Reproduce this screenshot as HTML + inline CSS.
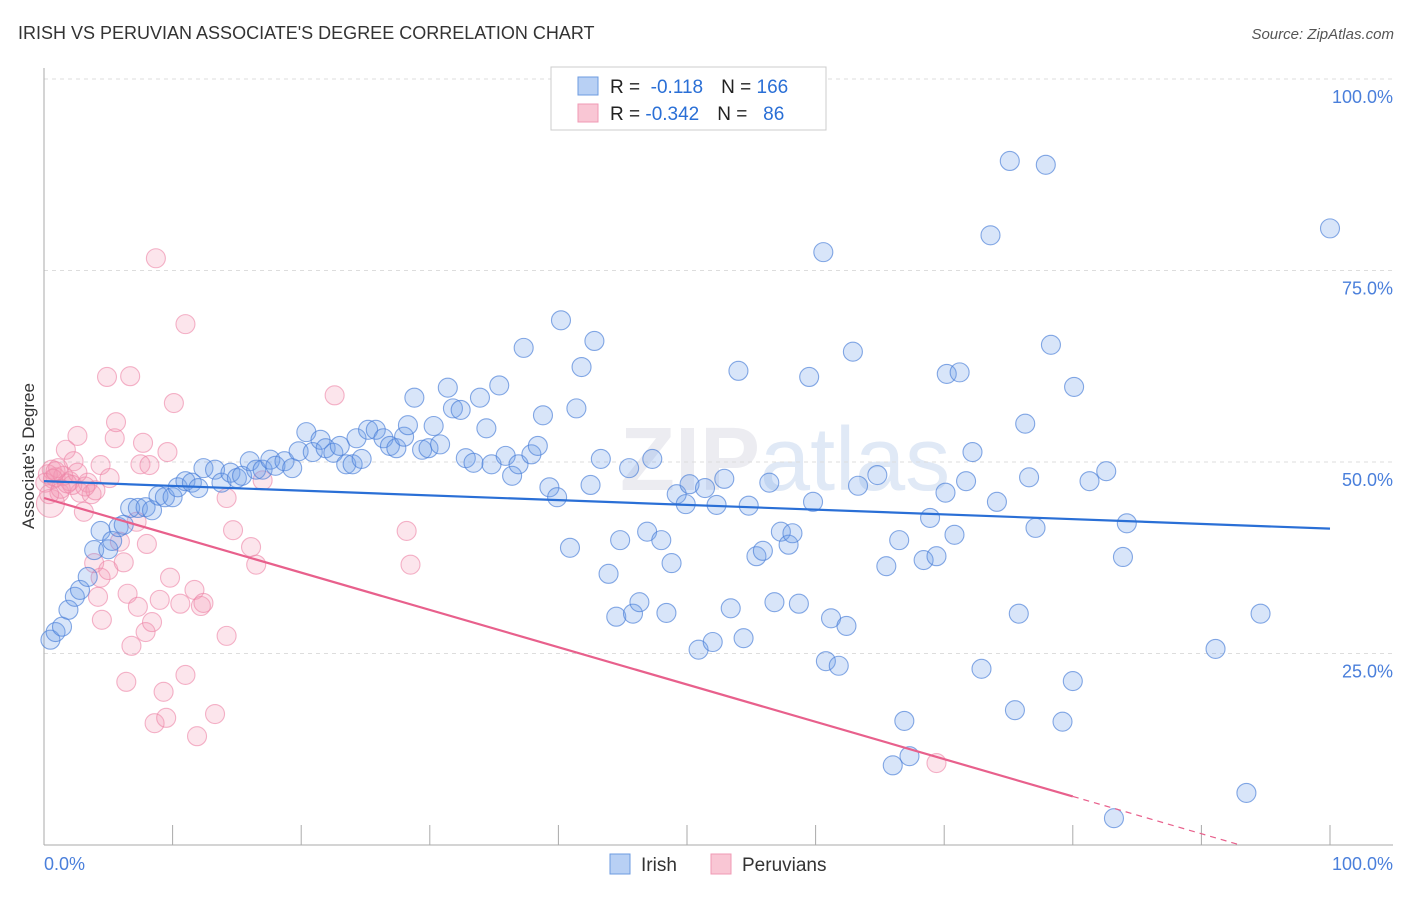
<!DOCTYPE html>
<html><head><meta charset="utf-8"><style>
body{margin:0;background:#fff;font-family:"Liberation Sans",sans-serif}
svg text{font-family:"Liberation Sans",sans-serif}
</style></head><body>
<svg id="chart" width="1406" height="892" xmlns="http://www.w3.org/2000/svg">
<text x="18" y="39" font-size="18" fill="#333">IRISH VS PERUVIAN ASSOCIATE'S DEGREE CORRELATION CHART</text>
<text x="1394" y="39" font-size="15" fill="#555" font-style="italic" text-anchor="end">Source: ZipAtlas.com</text>
<text x="34" y="456" font-size="17" fill="#333" text-anchor="middle" transform="rotate(-90 34 456)">Associate's Degree</text>
<text x="620" y="490" font-size="90" fill="#ececf1" font-family="Liberation Serif" font-weight="bold">ZIP<tspan font-family="Liberation Sans" font-weight="normal" fill="#e0e9f6">atlas</tspan></text>
<g id="grid"></g><g id="pts"></g><g id="lines"></g>
<g>
<rect x="551" y="67" width="275" height="63" fill="#fff" stroke="#ccc"/>
<rect x="578" y="77" width="20" height="18" fill="#b8d0f4" stroke="#6d9be0"/>
<rect x="578" y="104" width="20" height="18" fill="#f9c6d4" stroke="#f09ab4"/>
<text x="610" y="93" font-size="19" fill="#222">R = <tspan fill="#2a6fd6">&#160;-0.118</tspan><tspan dx="18">N = </tspan><tspan fill="#2a6fd6">166</tspan></text>
<text x="610" y="120" font-size="19" fill="#222">R = <tspan fill="#2a6fd6">-0.342</tspan><tspan dx="18">N = </tspan><tspan fill="#2a6fd6">&#160;&#160;86</tspan></text>
</g>
<g>
<rect x="610" y="854" width="20" height="20" fill="#b8d0f4" stroke="#6d9be0"/>
<text x="641" y="871" font-size="19" fill="#333">Irish</text>
<rect x="711" y="854" width="20" height="20" fill="#f9c6d4" stroke="#f09ab4"/>
<text x="742" y="871" font-size="19" fill="#333">Peruvians</text>
</g>
<text x="44" y="870" font-size="18" fill="#4a7fdb">0.0%</text>
<text x="1393" y="870" font-size="18" fill="#4a7fdb" text-anchor="end">100.0%</text>
</svg>
<script>
const yTicks=[100,75,50,25];
const yTickLabels=["100.0%","75.0%","50.0%","25.0%"];
const xTicks=[0,10,20,30,40,50,60,70,80,90,100];
const irishX=[0.5,0.9,1.4,1.9,2.4,2.8,3.4,3.9,5,4.4,5.3,5.8,6.2,6.7,7.3,7.9,8.4,8.9,9.4,10,10.4,11,11.5,12,12.4,13.3,13.8,14.5,15,15.4,16,16.5,17,17.6,18,18.7,19.3,19.8,20.4,20.9,21.5,21.9,22.5,23,23.5,24,24.3,24.7,25.2,25.8,26.4,26.9,27.4,28,28.3,28.8,29.4,29.9,30.3,30.8,31.4,31.8,32.4,32.8,33.4,33.9,34.4,34.8,35.4,35.9,36.4,36.9,37.3,37.9,38.4,38.8,39.3,39.9,40.2,40.9,41.4,41.8,42.5,42.8,43.3,43.9,44.5,44.8,45.5,45.8,46.3,46.9,47.3,48,48.4,48.8,49.2,49.9,50.2,50.9,51.4,52,52.3,52.9,53.4,54,54.4,54.8,55.4,55.9,56.4,56.8,57.3,57.9,58.2,58.7,59.5,59.8,60.6,60.8,61.2,61.8,62.4,62.9,63.3,64.8,65.5,66,66.5,66.9,67.3,68.4,68.9,69.4,70.1,70.2,70.8,71.2,71.7,72.2,72.9,73.6,74.1,75.1,75.5,75.8,76.3,76.6,77.1,77.9,78.3,79.2,80,80.1,81.3,82.6,83.2,83.9,84.2,91.1,93.5,94.6,100];
const irishY=[26.8,27.8,28.5,30.7,32.4,33.3,35,38.5,38.6,41,39.7,41.5,41.8,44,44,44.1,43.7,45.6,45.4,45.4,46.7,47.5,47.3,46.6,49.2,49,47.3,48.6,47.9,48.2,50.1,49,49,50.3,49.5,50.1,49.2,51.4,53.9,51.3,52.9,51.8,51.2,52.1,49.7,49.7,53.1,50.4,54.2,54.2,53.1,52.1,51.8,53.3,54.8,58.4,51.6,51.8,54.7,52.3,59.7,57,56.8,50.5,49.9,58.4,54.4,49.7,60,50.8,48.2,49.7,64.9,51,52.1,56.1,46.7,45.4,68.5,38.8,57,62.4,47,65.8,50.4,35.4,29.8,39.8,49.2,30.2,31.7,40.9,50.4,39.8,30.3,36.8,45.8,44.5,47.1,25.5,46.6,26.5,44.4,47.8,30.9,61.9,27,44.3,37.7,38.4,47.3,31.7,40.9,39.2,40.7,31.5,61.1,44.8,77.4,24,29.6,23.4,28.6,64.4,46.9,48.3,36.4,10.4,39.8,16.2,11.6,37.2,42.7,37.7,46,61.5,40.5,61.7,47.5,51.3,23,79.6,44.8,89.3,17.6,30.2,55,48,41.4,88.8,65.3,16.1,21.4,59.8,47.5,48.8,3.5,37.6,42,25.6,6.8,30.2,80.5];
const peruX=[0.5,0.6,0.9,1.2,1.7,2,2.3,2.6,2.8,3.1,3.4,3.7,3.9,4,4.2,4.4,4.4,4.5,4.9,5,5.1,5.5,5.6,5.9,6.2,6.4,6.5,6.7,6.8,7.2,7.3,7.5,7.7,7.9,8,8.2,8.4,8.6,8.7,9,9.3,9.5,9.6,9.8,10.1,10.6,11,11,11.7,11.9,12.2,12.4,13.3,14.2,14.2,14.7,16.1,16.5,17,22.6,28.2,28.5,69.4,0.1,0.3,1.5,1.1,2.2,0.7,1.3,2.6,3.2,0.4,1.8,0.9];
const peruY=[44.6,49,48,46,51.6,47.5,50.1,53.4,46,43.5,47.3,45.8,36.8,46.3,32.4,49.6,34.9,29.4,61.1,35.9,47.9,53.1,55.2,39.6,36.9,21.3,32.8,61.2,26,42.2,31.1,49.7,52.5,27.8,39.3,49.6,29.1,15.9,76.6,32,20,16.6,51.3,34.9,57.7,31.5,22.2,68,33.3,14.2,31.2,31.6,17.1,45.3,27.3,41.1,38.9,36.6,47.6,58.7,41,36.6,10.7,47.3,48.4,48.2,49.2,47,47.8,46.5,48.6,46.8,45.8,47.2,48.8];
const irishTrend=[47.5,41.3];
const peruTrend=[45.3,-3.4];
const peruSolidEnd=80;

const NS="http://www.w3.org/2000/svg";
const X0=44,X1=1330,Y0=845,Y100=79;
const sx=v=>X0+(X1-X0)*v/100, sy=v=>Y0-(Y0-Y100)*v/100;
function mk(tag,attrs,parent){const e=document.createElementNS(NS,tag);for(const k in attrs)e.setAttribute(k,attrs[k]);parent.appendChild(e);return e;}
const grid=document.getElementById('grid');
yTicks.forEach((t,i)=>{
 const l=mk('line',{x1:X0,x2:1393,y1:sy(t),y2:sy(t),stroke:'#ddd','stroke-dasharray':'4,4'},grid);
 
 
 const tx=mk('text',{x:1393,y:sy(t)+24,'font-size':18,fill:'#4a7fdb','text-anchor':'end'},grid);
 tx.textContent=yTickLabels[i];
 
 
});
const ax=mk('line',{x1:X0,x2:X0,y1:68,y2:Y0,stroke:'#aaa'},grid);


const bx=mk('line',{x1:X0,x2:1393,y1:Y0,y2:Y0,stroke:'#aaa'},grid);


xTicks.forEach(t=>{
 const tk=mk('line',{x1:sx(t),x2:sx(t),y1:Y0-20,y2:Y0,stroke:'#aaa'},grid);
 
 
});
const pts=document.getElementById('pts');
peruX.forEach((x,i)=>{
 const c=mk('circle',{cx:sx(x),cy:sy(peruY[i]),r:i===0?14:9.5,fill:'rgba(244,150,180,0.25)',stroke:'rgba(236,130,165,0.6)','stroke-width':1.1},pts);
 
 
});
irishX.forEach((x,i)=>{
 const c=mk('circle',{cx:sx(x),cy:sy(irishY[i]),r:9.5,fill:'rgba(110,160,232,0.27)',stroke:'rgba(70,125,215,0.65)','stroke-width':1.1},pts);
 
 
});
const lines=document.getElementById('lines');
const il=mk('line',{x1:sx(0),y1:sy(irishTrend[0]),x2:sx(100),y2:sy(irishTrend[1]),stroke:'#2a6fd6','stroke-width':2.2},lines);


const pAt=x=>peruTrend[0]+(peruTrend[1]-peruTrend[0])*x/100;
const pl=mk('line',{x1:sx(0),y1:sy(pAt(0)),x2:sx(peruSolidEnd),y2:sy(pAt(peruSolidEnd)),stroke:'#e8608c','stroke-width':2.2},lines);


const xEnd=Math.min(100,-peruTrend[0]*100/(peruTrend[1]-peruTrend[0]));
const pd=mk('line',{x1:sx(peruSolidEnd),y1:sy(pAt(peruSolidEnd)),x2:sx(xEnd),y2:sy(pAt(xEnd)),stroke:'#e8608c','stroke-width':1.2,'stroke-dasharray':'6,5'},lines);


</script>
</body></html>
